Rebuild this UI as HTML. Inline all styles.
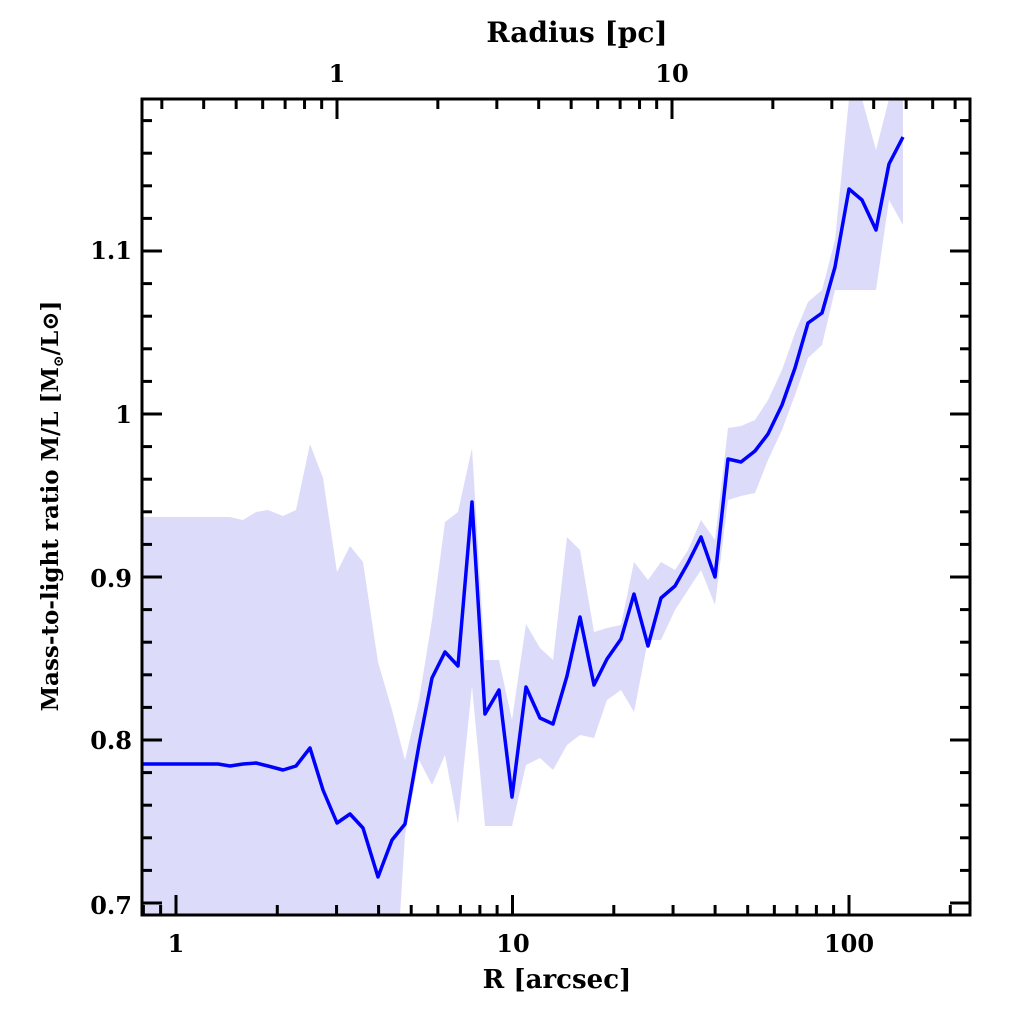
<!DOCTYPE html><html><head><style>body{margin:0;background:#fff}svg{display:block}text{font-family:"DejaVu Serif","Liberation Serif",serif;font-weight:bold;fill:#000}</style></head><body>
<svg width="1024" height="1024" viewBox="0 0 1024 1024">
<polygon fill="#dcdcfa" points="142,517 230,517 243,520 256,512 268,510 283,516 296,510 310,444 323,478 337,572 350,546 363,562 378,662 392,710 405,760 419,700 432,620 445,522 458,512 472,448 485,660 499,660 512,720 526,624 540,648 553,660 567,537 580,550 594,632 607,628 621,625 634,562 648,580 661,562 675,570 688,550 701,520 715,540 728,428 741,426 755,420 768,400 782,370 795,333 808,302 822,290 835,240 849,99 862,99 876,150 889,99 903,99 903,225 889,200 876,290 862,290 849,290 835,290 822,345 808,358 795,395 782,430 768,460 755,493 741,496 728,500 715,605 701,570 688,590 675,610 661,640 648,640 634,712 621,690 607,700 594,738 580,735 567,745 553,770 540,758 526,765 512,826 499,826 485,826 472,686 458,824 445,755 432,785 419,760 405,835 400,915 142,915"/>
<polyline fill="none" stroke="#0000ff" stroke-width="3.5" stroke-linejoin="round" points="142,764 218,764 230,766 243,764 256,763 268,766 283,770 296,766 310,748 323,790 337,823 350,814 363,828 378,877 392,840 405,824 419,745 432,678 445,652 458,666 472,502 485,714 499,690 512,797 526,687 540,718 553,724 567,676 580,617 594,685 607,659 621,639 634,594 648,646 661,598 675,586 688,563 701,537 715,577 728,459 741,462 755,451 768,434 782,405 795,368 808,323 822,313 835,267 849,189 862,200 876,230 889,164 903,137"/>
<rect x="142" y="99" width="828" height="816" fill="none" stroke="#000" stroke-width="3"/>
<g stroke="#000" stroke-width="3" id="t"></g>
<text x="176" y="952" font-size="24" text-anchor="middle">1</text>
<text x="513" y="952" font-size="24" text-anchor="middle">10</text>
<text x="849" y="952" font-size="24" text-anchor="middle">100</text>
<text x="557" y="988" font-size="26" text-anchor="middle">R [arcsec]</text>
<text x="337" y="82" font-size="24" text-anchor="middle">1</text>
<text x="672" y="82" font-size="24" text-anchor="middle">10</text>
<text x="577" y="42" font-size="28" text-anchor="middle">Radius [pc]</text>
<text x="132" y="259" font-size="24" text-anchor="end">1.1</text>
<text x="132" y="423" font-size="24" text-anchor="end">1</text>
<text x="132" y="587" font-size="24" text-anchor="end">0.9</text>
<text x="132" y="749" font-size="24" text-anchor="end">0.8</text>
<text x="132" y="914" font-size="24" text-anchor="end">0.7</text>
<text transform="translate(58,506) rotate(-90)" font-size="23" text-anchor="middle">Mass-to-light ratio M/L [M<tspan font-size="14" dy="5">⊙</tspan><tspan dy="-5">/L⊙]</tspan></text>
</svg>
<script>
var g=document.getElementById('t'),s='';
function L(a,b,c,d){s+='<line x1="'+a+'" y1="'+b+'" x2="'+c+'" y2="'+d+'"/>';}
var d=336.5,x0=176;
for(var e=-1;e<3;e++)for(var k=1;k<10;k++){var x=x0+(e+Math.log10(k))*d;if(x<143||x>969)continue;var l=k==1?20:10;L(x,915,x,915-l);}
var dp=335,p0=337;
for(var e=-1;e<2;e++)for(var k=1;k<10;k++){var x=p0+(e+Math.log10(k))*dp;if(x<143||x>969)continue;var l=k==1?20:10;L(x,99,x,99+l);}
for(var i=0;i<30;i++){var y=903-i*32.6;if(y<100)break;var l=(i%5==0)?20:10;L(142,y,142+l,y);L(970,y,970-l,y);}
g.innerHTML=s;
</script>
</body></html>
